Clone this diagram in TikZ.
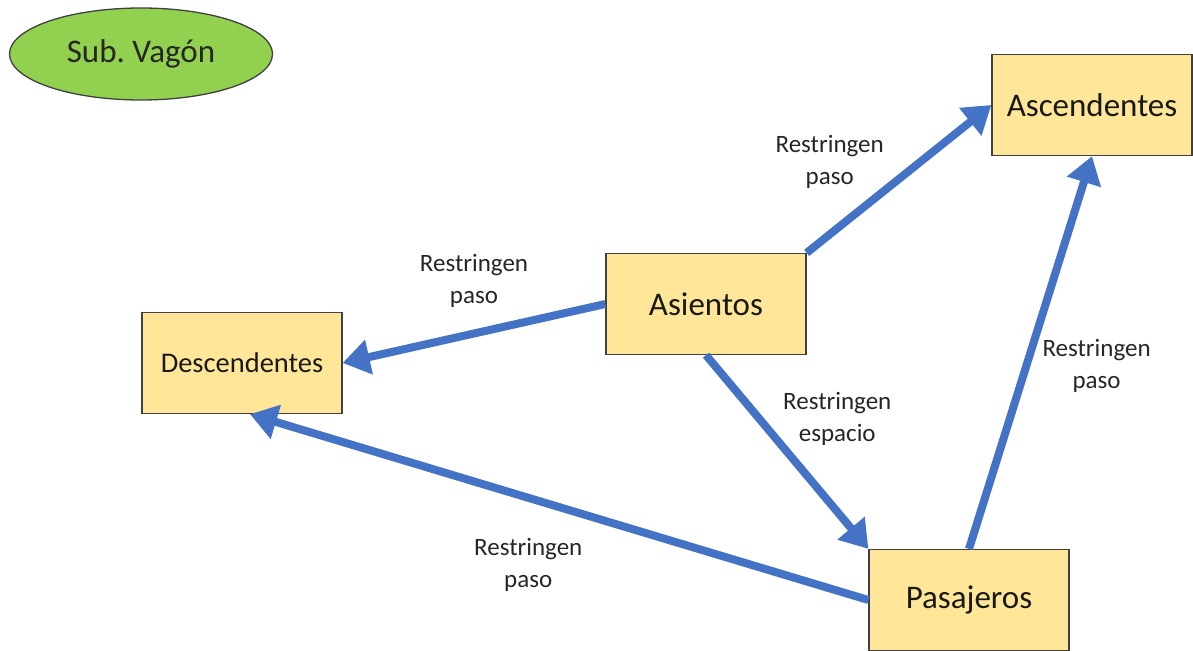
\documentclass[tikz,border=0pt]{standalone}
\usepackage{fontspec}
\setmainfont{Carlito}
\usepackage{tikz}
\usetikzlibrary{shapes.geometric, arrows.meta, positioning}
\definecolor{oro}{HTML}{FFE699}
\definecolor{verde}{HTML}{92D050}
\definecolor{azul}{HTML}{4472C4}
\tikzstyle{bloque} = [draw=black!75, line width=1.3pt, fill=oro, minimum width=200pt, minimum height=101pt, text=black!90, font=\fontsize{33}{38}\selectfont]
\tikzstyle{flecha} = [azul, line width=8pt, -{Triangle[length=27pt,width=34pt]}]
\tikzstyle{etiqueta} = [align=center, text=black!85, font=\fontsize{25}{32}\selectfont, inner sep=2pt]

\begin{document}
\begin{tikzpicture}[x=1pt, y=-1pt]
        \useasboundingbox (0,0) rectangle (1193,650);
        \node[ellipse, draw=black!75, line width=1.3pt, fill=verde, minimum width=263pt, minimum height=92pt, text=black!85, font=\fontsize{33}{38}\selectfont] (sub) at (141,54) {Sub.\ Vagón};
        \node[bloque] (asientos) at (706,304) {Asientos};
        \node[bloque, node distance=386pt, right of=asientos, yshift=199pt] (ascendentes) {Ascendentes};
        \node[bloque, node distance=464pt, left of=asientos, yshift=-59pt, font=\fontsize{28.5}{34}\selectfont] (descendentes) {Descendentes};
        \node[bloque, node distance=263pt, right of=asientos, yshift=-296pt] (pasajeros) {Pasajeros};
        \draw[flecha] (asientos.north east) -- node[etiqueta, above left, pos=0.45, yshift=-8pt] (l1) {Restringen\\paso} (ascendentes.west);
        \draw[flecha] (asientos.west) -- node[etiqueta, above, yshift=20pt] (l2) {Restringen\\paso} (descendentes.east);
        \draw[flecha] (asientos.south) -- node[etiqueta, above right, xshift=-10pt] (l3) {Restringen\\espacio} (pasajeros.north west);
        \draw[flecha] (pasajeros.north) -- node[etiqueta, right, xshift=6pt, yshift=-13pt] (l4) {Restringen\\paso} (ascendentes.south);
        \draw[flecha] (pasajeros.west) -- node[etiqueta, below, pos=0.55, yshift=-35pt] (l5) {Restringen\\paso} ([xshift=8pt]descendentes.south);
\end{tikzpicture}
\end{document}
